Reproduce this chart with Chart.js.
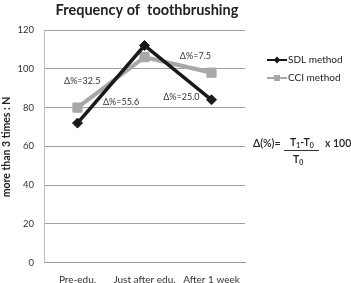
<!DOCTYPE html>
<html><head><meta charset="utf-8">
<script src="https://cdn.jsdelivr.net/npm/chart.js@4"></script>
<style>
html,body{margin:0;padding:0;background:#fff;}
#wrap{position:relative;width:351px;height:283px;}
canvas{position:absolute;left:0;top:0;}
.f{position:absolute;font-family:Lato,"Open Sans",sans-serif;color:#222;font-size:10.5px;white-space:nowrap;font-weight:600;}
sub{font-size:7px;vertical-align:-2px;}
</style></head>
<body><div id="wrap"><canvas id="c" width="351" height="283"></canvas>
<div class="f" style="left:253px;top:137px;">Δ(%)=</div>
<div class="f" style="left:284px;top:136px;border-bottom:1px solid #333;padding:0 5px 1px 6px;">T<sub>1</sub>-T<sub>0</sub></div>
<div class="f" style="left:325px;top:137px;">x 100</div>
<div class="f" style="left:293px;top:153px;">T<sub>0</sub></div>
</div>
<script>
const categories = ["Pre-edu.", "Just after edu.", "After 1 week"];
const sdlValues = [72, 112, 84];
const cciValues = [80, 106, 98];
const yTicks = [0, 20, 40, 60, 80, 100, 120];
const seriesNames = ["SDL method", "CCI method"];
const chartTitle = "Frequency of  toothbrushing";
const yTitle = "more than 3 times : N";
const deltaLabels = ["Δ%=32.5", "Δ%=55.6", "Δ%=25.0", "Δ%=7.5"];
// anchor in data space: [category index, value]
const deltaAnchors = [[0.07, 93.5], [0.65, 83], [1.55, 85.6], [1.76, 106.4]];

const FONT = 'Lato, "Open Sans", sans-serif';

const deco = {
  id: 'deco',
  afterDraw(chart) {
    const ctx = chart.ctx, x = chart.scales.x, y = chart.scales.y;
    ctx.save();
    ctx.fillStyle = '#222';
    ctx.font = 'bold 14.5px ' + FONT;
    ctx.textAlign = 'center'; ctx.textBaseline = 'middle';
    ctx.fillText(chartTitle, 147, 10);
    ctx.save();
    ctx.translate(7, 147);
    ctx.rotate(-Math.PI / 2);
    ctx.font = 'bold 10.5px ' + FONT;
    ctx.fillText(yTitle, 0, 0);
    ctx.restore();
    ctx.font = '9px ' + FONT;
    ctx.fillStyle = '#333';
    deltaLabels.forEach((t, i) => {
      const a = deltaAnchors[i];
      const px = x.left + (x.right - x.left) * (a[0] + 0.5) / categories.length;
      ctx.fillText(t, px, y.getPixelForValue(a[1]));
    });
    const items = [
      {name: seriesNames[0], color: '#1a1a1a', style: 'diamond', y: 60},
      {name: seriesNames[1], color: '#a8a8a8', style: 'square', y: 78}
    ];
    items.forEach(it => {
      ctx.strokeStyle = it.color; ctx.fillStyle = it.color;
      ctx.lineWidth = 2;
      ctx.beginPath(); ctx.moveTo(267, it.y); ctx.lineTo(287, it.y); ctx.stroke();
      ctx.beginPath();
      if (it.style === 'diamond') {
        ctx.moveTo(277, it.y - 3.5); ctx.lineTo(280.5, it.y); ctx.lineTo(277, it.y + 3.5); ctx.lineTo(273.5, it.y); ctx.closePath();
      } else {
        ctx.rect(274, it.y - 3, 6, 6);
      }
      ctx.fill();
      ctx.fillStyle = '#222';
      ctx.font = '10px ' + FONT;
      ctx.textAlign = 'left';
      ctx.fillText(it.name, 288, it.y);
    });
    ctx.restore();
  }
};

new Chart(document.getElementById('c'), {
  type: 'line',
  data: {
    labels: categories,
    datasets: [
      {label: seriesNames[0], data: sdlValues, borderColor: '#1a1a1a', backgroundColor: '#1a1a1a',
       borderWidth: 3.5, pointStyle: 'rectRot', pointRadius: 5, pointBorderWidth: 1, tension: 0, order: 1},
      {label: seriesNames[1], data: cciValues, borderColor: '#a8a8a8', backgroundColor: '#a8a8a8',
       borderWidth: 4.2, pointStyle: 'rect', pointRadius: 6.5, pointBorderWidth: 1, tension: 0, order: 2}
    ]
  },
  options: {
    responsive: false, animation: false, devicePixelRatio: 1,
    layout: {padding: {top: 30, right: 106, bottom: 0, left: 0}},
    plugins: {legend: {display: false}, tooltip: {enabled: false}, title: {display: false}},
    scales: {
      x: {
        offset: true,
        grid: {display: false, drawTicks: false},
        border: {display: true, color: '#999', width: 1},
        ticks: {color: '#333', font: {family: FONT, size: 10}, padding: 11, maxRotation: 0, autoSkip: false},
        afterFit(s) { s.height = 20.3; }
      },
      y: {
        min: 0, max: 120,
        afterBuildTicks(s) { s.ticks = yTicks.map(v => ({value: v})); },
        grid: {color: '#a0a0a0', lineWidth: 1, drawTicks: false},
        border: {display: true, color: '#bbb', width: 1},
        ticks: {color: '#333', font: {family: FONT, size: 9.5}, padding: 10},
        afterFit(s) { s.width = 44; }
      }
    }
  },
  plugins: [deco]
});
</script></body></html>
